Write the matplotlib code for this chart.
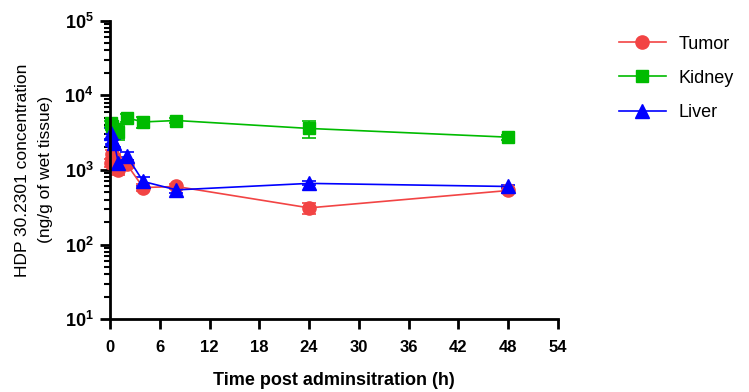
import math
import matplotlib
matplotlib.use("Agg")
import matplotlib.pyplot as plt
from matplotlib.lines import Line2D
from matplotlib.ticker import FixedLocator, FuncFormatter, LogLocator, NullFormatter

plt.rcParams['font.family'] = ['Liberation Sans', 'DejaVu Sans']
plt.rcParams['mathtext.fontset'] = 'custom'
plt.rcParams['mathtext.bf'] = 'Liberation Sans:bold'
plt.rcParams['mathtext.rm'] = 'Liberation Sans'

times = [0.083, 0.25, 0.5, 1, 2, 4, 8, 24, 48]
tumor = [1250, 1650, 1450, 1000, 1200, 580, 600, 310, 530]
tumor_err = [150, 200, 200, 150, 150, 60, 50, 50, 40]
kidney = [4200, 3900, 3500, 3200, 5000, 4400, 4600, 3600, 2750]
kidney_err = [400, 500, 600, 700, 600, 700, 400, 900, 200]
liver = [3100, 2600, 2300, 1250, 1550, 700, 540, 660, 600]
liver_err = [500, 400, 300, 250, 200, 100, 50, 40, 30]
x_ticks = [0, 6, 12, 18, 24, 30, 36, 42, 48, 54]

fig = plt.figure(figsize=(7.49, 3.92), dpi=100)
ax = fig.add_axes([0.1469, 0.186, 0.598, 0.761])

series = [
    ("Tumor", tumor, tumor_err, "#F24444", "o", 9.5),
    ("Kidney", kidney, kidney_err, "#00BB00", "s", 9),
    ("Liver", liver, liver_err, "#0000FF", "^", 9.5),
]
handles = []
for name, vals, err, col, mk, ms in series:
    ax.errorbar(times, vals, yerr=err, color=col, marker=mk, markersize=ms,
                linewidth=1.2, elinewidth=1.2, capsize=5, capthick=1.2,
                clip_on=False)
    handles.append(Line2D([], [], color=col, marker=mk, markersize=ms,
                          linewidth=1.2, label=name))

ax.set_yscale('log')
ax.set_ylim(10, 1e5)
ax.set_xlim(0, 54)
ax.xaxis.set_major_locator(FixedLocator(x_ticks))
ax.set_xticklabels([str(t) for t in x_ticks], fontweight='bold', fontsize=12)
ax.yaxis.set_major_locator(LogLocator(base=10, numticks=10))
ax.yaxis.set_minor_locator(LogLocator(base=10, subs=range(2, 10), numticks=10))
ax.yaxis.set_minor_formatter(NullFormatter())
ax.yaxis.set_major_formatter(FuncFormatter(lambda v, p: r'$\mathbf{10^{%d}}$' % round(math.log10(v))))
for lab in ax.get_yticklabels():
    lab.set_fontsize(13)

for s in ['top', 'right']:
    ax.spines[s].set_visible(False)
for s in ['left', 'bottom']:
    ax.spines[s].set_linewidth(2)
ax.tick_params(axis='both', which='major', width=2, length=7, direction='out')
ax.tick_params(axis='x', pad=8)
ax.tick_params(axis='y', which='minor', width=1.5, length=4, direction='out')
ax.tick_params(axis='y', pad=5)

ax.set_xlabel("Time post adminsitration (h)", fontweight='bold', fontsize=13, labelpad=12)
ax.set_ylabel("HDP 30.2301 concentration\n(ng/g of wet tissue)", fontsize=12.5,
              labelpad=8, linespacing=1.7)

ax.legend(handles=handles, loc='upper left', bbox_to_anchor=(1.1, 1.005), frameon=False,
          fontsize=13, labelspacing=0.95, handlelength=2.6, handletextpad=0.7)

fig.savefig("out.png", dpi=100)
